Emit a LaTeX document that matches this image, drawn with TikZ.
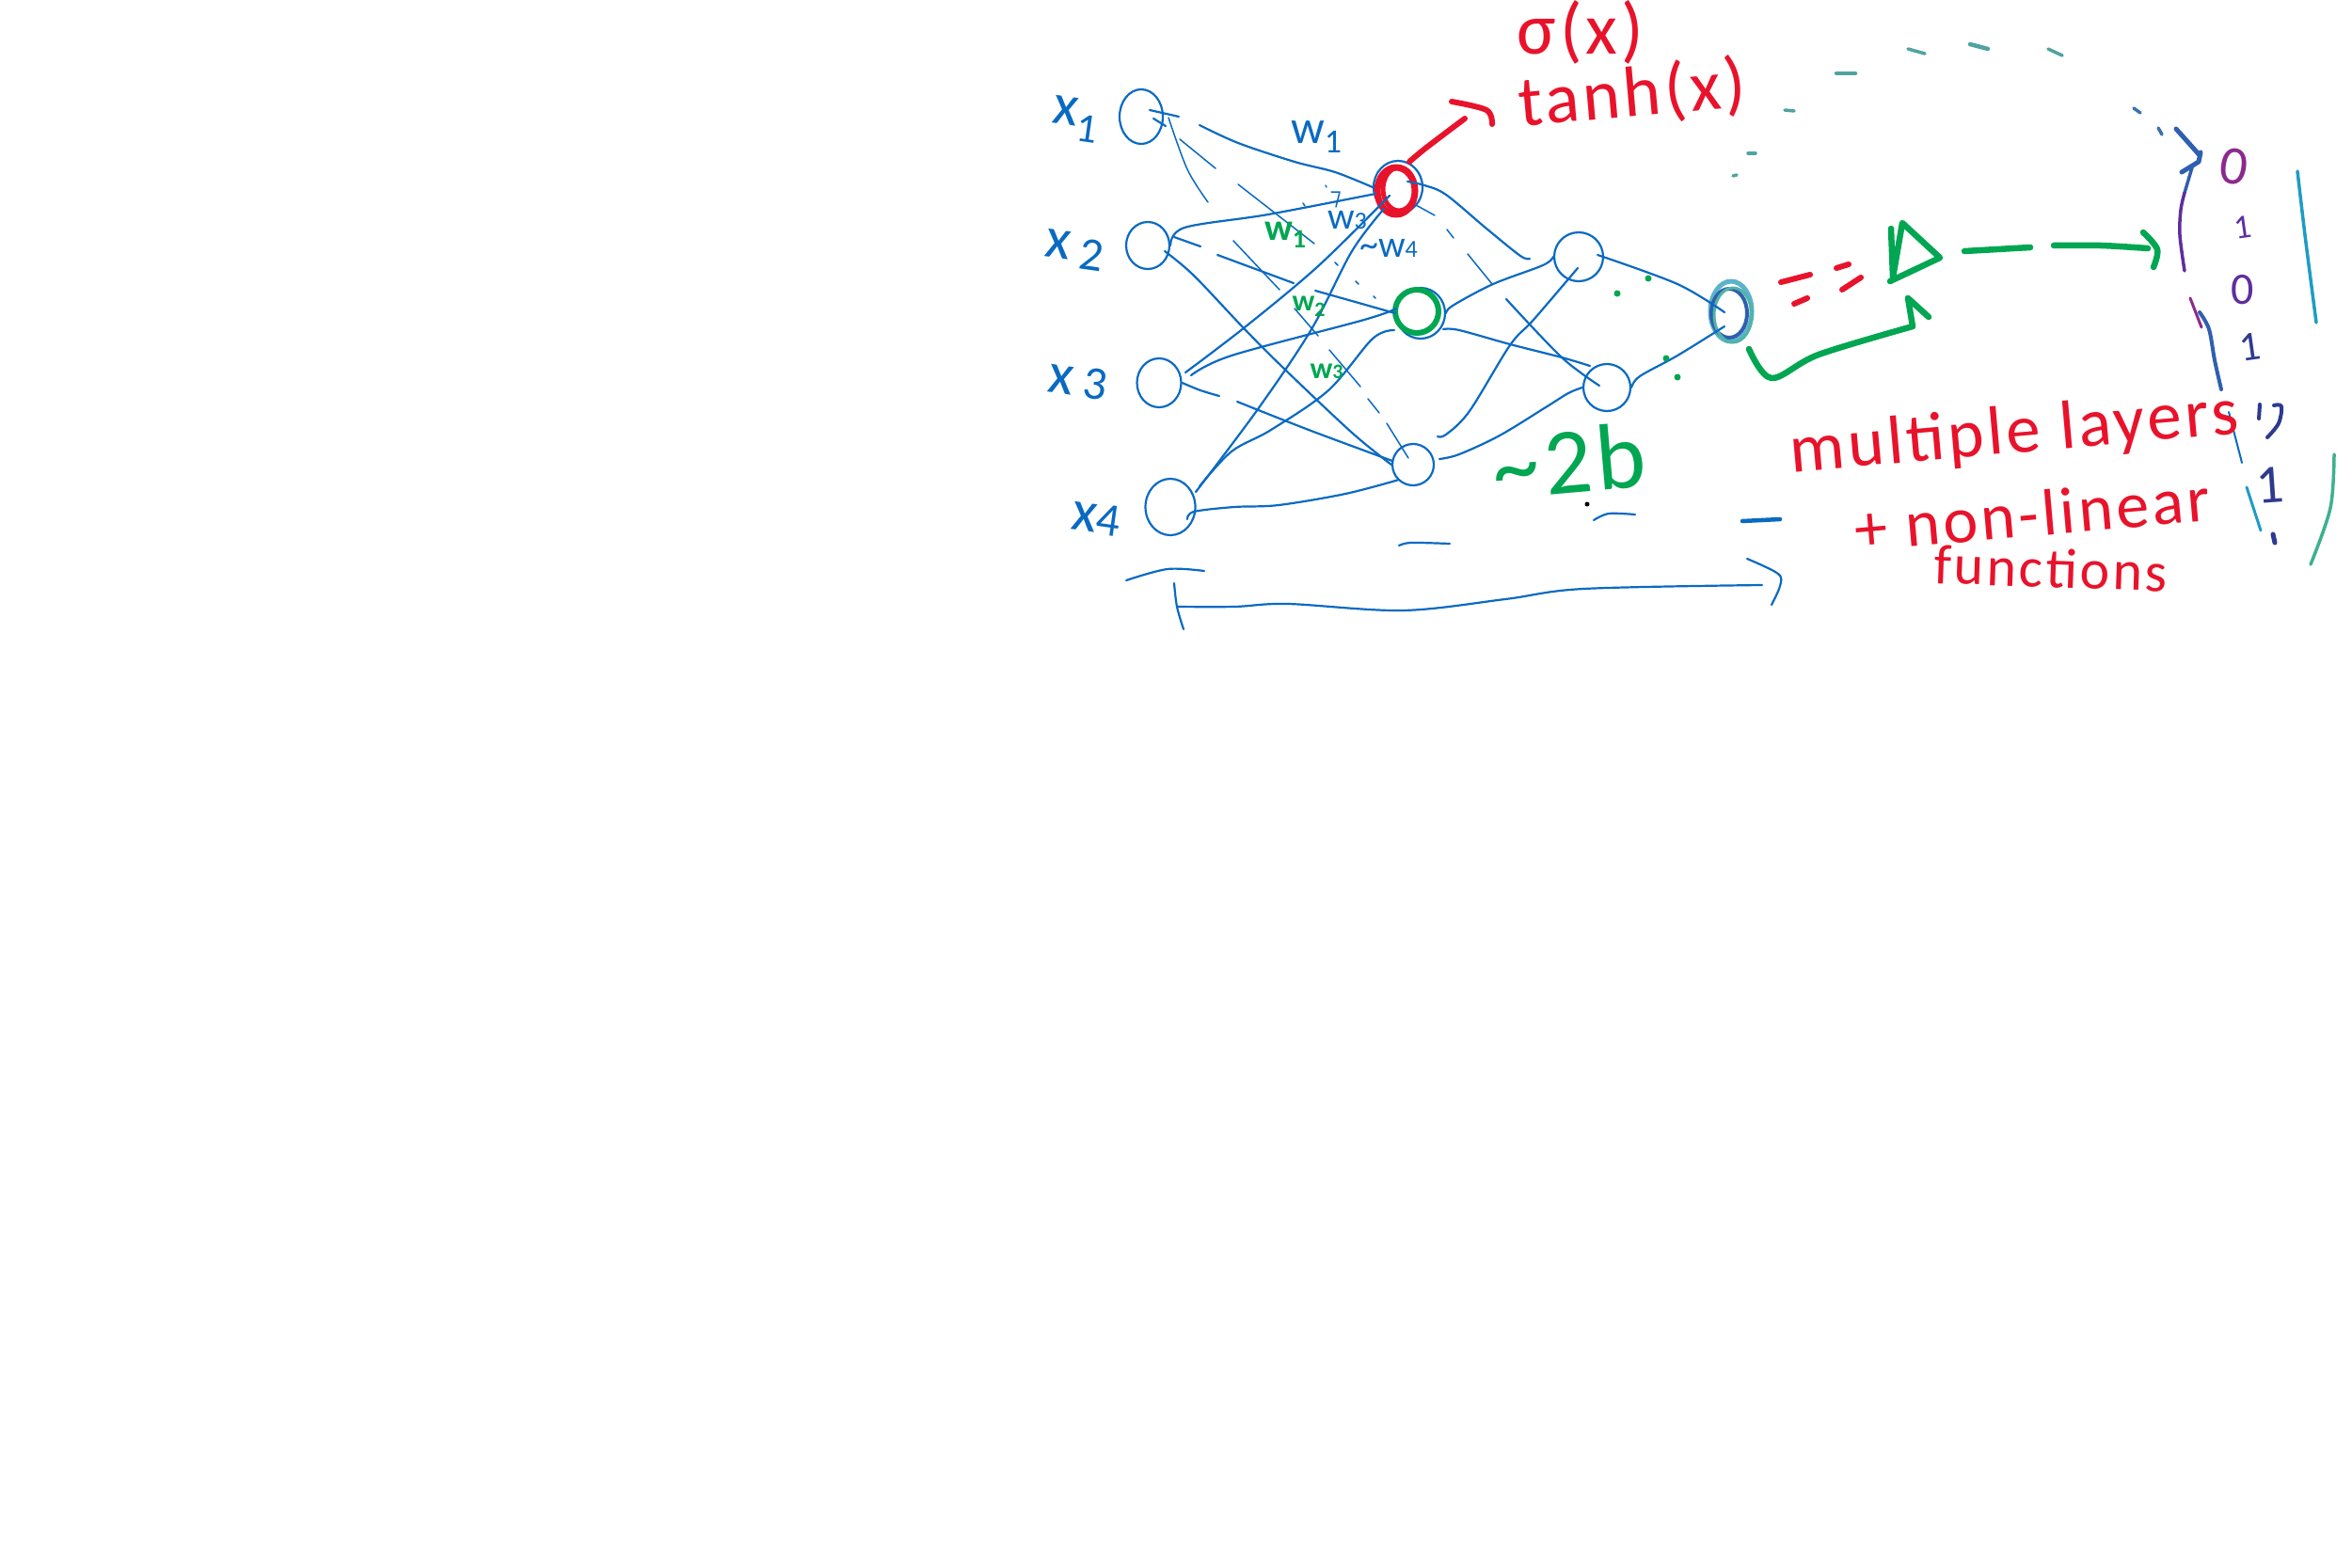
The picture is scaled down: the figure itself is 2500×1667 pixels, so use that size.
\documentclass[tikz,border=0pt]{standalone}
\usepackage{fontspec}
\setmainfont{Carlito}
\newfontfamily\handfont[LetterSpace=5]{Carlito}
\usetikzlibrary{shapes.geometric}
\definecolor{inkblue}{HTML}{0A6AC2}
\definecolor{inkred}{HTML}{E8132B}
\definecolor{inkgreen}{HTML}{00A651}
\definecolor{inkteal}{HTML}{4FA3A0}
\definecolor{inksky}{HTML}{5DB2CC}
\definecolor{inknavy}{HTML}{2F5FB0}
\definecolor{inkmint}{HTML}{4FB5A5}
\definecolor{inkpurple}{HTML}{8B2A8E}
\definecolor{inkviolet}{HTML}{5E2E9E}
\definecolor{inkdeep}{HTML}{2E3A90}
\definecolor{inkcyan}{HTML}{1F9CC4}
\definecolor{inksea}{HTML}{3FB08F}
\newcommand{\fs}[1]{\fontsize{#1}{#1}\selectfont}
\newcommand{\ink}[2]{\draw[#1] plot[smooth,tension=.55] coordinates {#2};}
\tikzset{
  neuron/.style={draw=inkblue,line width=2.2pt,ellipse,inner sep=0pt},
  wire/.style={draw=inkblue,line width=2.2pt},
  thin wire/.style={draw=inkblue,line width=1.5pt},
  hand/.style={inner sep=0pt,outer sep=0pt},
  redpen/.style={draw=inkred,line width=6pt},
  greenpen/.style={draw=inkgreen,line width=6.5pt},
  tealpen/.style={draw=inkteal,line width=3.5pt},
}
\begin{document}
\begin{tikzpicture}[x=1pt,y=-1pt,line cap=round,line join=round]
\useasboundingbox (0,0) rectangle (2500,1667);
% neurons
\node[neuron,minimum width=46pt,minimum height=58pt] (x1) at (1213,124) {};
\node[neuron,minimum width=46pt,minimum height=50pt] (x2) at (1220,261) {};
\node[neuron,minimum width=47pt,minimum height=52pt] (x3) at (1232,407) {};
\node[neuron,minimum width=53pt,minimum height=60pt] (x4) at (1244,539) {};
\node[neuron,minimum width=52pt,minimum height=56pt] (h1) at (1486,199) {};
\node[neuron,minimum width=52pt,minimum height=54pt] (h2) at (1510,333) {};
\node[neuron,minimum width=44pt,minimum height=44pt] (h3) at (1502,494) {};
\node[neuron,minimum width=52pt,minimum height=52pt] (o1) at (1678,273) {};
\node[neuron,minimum width=50pt,minimum height=50pt] (o2) at (1708,412) {};
\node[draw=inksky,line width=5pt,ellipse,inner sep=0pt,minimum width=44pt,minimum height=64pt] (out) at (1840,331) {};
\node[draw=inknavy,line width=4pt,ellipse,inner sep=0pt,minimum width=38pt,minimum height=52pt] (outb) at (1838,333) {};
\node[draw=inkmint,line width=3pt,ellipse,inner sep=0pt,minimum width=40pt,minimum height=58pt] (outc) at (1842,335) {};
\node[draw=inkred,line width=7pt,ellipse,inner sep=0pt,minimum width=40pt,minimum height=50pt] (hr) at (1484,203) {};
\node[draw=inkred,line width=5pt,ellipse,inner sep=0pt,minimum width=34pt,minimum height=46pt] (hr2) at (1487,201) {};
\node[draw=inkgreen,line width=6pt,ellipse,inner sep=0pt,minimum width=46pt,minimum height=46pt] (hg) at (1506,331) {};
% x1 outgoing
\ink{wire}{(1222,117)(1253,124)}
\ink{wire}{(1226,126)(1239,134)}
\ink{wire}{(1275,133)(1316,152)(1376,172)(1419,183)(h1.west)}
\ink{thin wire}{(1242,125)(1262,180)(1284,215)}
\ink{thin wire}{(1254,148)(1292,179)}
\ink{thin wire}{(1316,196)(1397,259)}
\ink{thin wire}{(1311,256)(1360,308)}
\ink{thin wire}{(1376,328)(1401,357)}
\ink{thin wire}{(1413,372)(1446,411)}
\ink{thin wire}{(1454,424)(1466,439)}
\ink{thin wire}{(1474,450)(1497,487)}
% x2 outgoing
\ink{wire}{(x2.east)(1259,242)(1348,228)(1462,206)}
\ink{wire}{(1248,252)(1276,262)}
\ink{wire}{(1294,271)(1375,301)}
\ink{wire}{(1398,309)(1437,320)(h2.west)}
\ink{wire}{(1238,267)(1269,293)(1323,350)(1366,393)(1437,460)(h3.west)}
% x3 outgoing
\ink{wire}{(1260,396)(1323,348)(1401,283)(1477,208)}
\ink{wire}{(1266,399)(1309,378)(1450,340)(1484,328)}
\ink{wire}{(x3.east)(1276,415)(1296,421)}
\ink{wire}{(1315,427)(1391,457)(1480,490)}
% x4 outgoing
\ink{wire}{(1271,523)(1337,435)(1394,350)(1437,267)(1471,222)}
\ink{wire}{(1275,517)(1309,480)(1351,457)(1412,415)(1459,360)(1482,351)}
\ink{wire}{(1262,552)(1269,544)(1312,539)(1359,537)(1430,525)(h3.south west)}
% hidden layer outgoing
\ink{wire}{(1496,193)(1514,197)(1537,207)(1580,243)(1616,272)(1626,275)}
\ink{thin wire}{(1505,218)(1525,229)}
\ink{thin wire}{(1538,244)(1545,253)}
\ink{thin wire}{(1560,270)(1586,302)}
\ink{wire}{(1601,318)(1660,380)(1700,410)}
\ink{wire}{(h2.east)(1544,325)(1587,302)(1640,282)(o1.west)}
\ink{wire}{(1534,350)(1551,351)(1605,366)(1660,380)(1690,389)}
\ink{wire}{(1528,464)(1537,462)(1562,437)(1605,367)(1630,340)(1677,285)}
\ink{wire}{(1530,488)(1551,483)(1594,463)(1643,433)(1667,418)(o2.west)}
% outputs to last neuron
\ink{wire}{(1698,271)(1783,302)(1833,332)}
\ink{wire}{(o2.east)(1743,400)(1783,378)(1833,347)}
% small ticks on the top layer
\draw[thin wire] (1415,204) -- (1424,204) -- (1420,220);
\draw[thin wire] (1385,216) -- +(2,3);
\draw[thin wire] (1409,197) -- +(1,2);
\draw[thin wire] (1419,279) -- +(3,3);
\draw[thin wire] (1441,299) -- +(3,3);
\draw[thin wire] (1460,315) -- +(2,2);
% blue dashes and brackets under the network
\ink{wire}{(1487,580)(1500,577)(1541,578)}
\ink{wire}{(1694,553)(1710,546)(1738,547)}
\draw[wire,line width=4.5pt] (1852,554) -- (1892,552);
\ink{wire}{(1197,617)(1241,605)(1280,607)}
\ink{wire}{(1248,620)(1251,645)(1258,669)}
\ink{wire}{(1251,645)(1312,645)(1369,642)(1491,649)(1600,637)(1683,626)(1873,622)}
\ink{wire}{(1857,594)(1890,610)(1892,623)(1883,643)}
% red arrow and equals
\ink{redpen}{(1498,172)(1516,157)(1557,126)}
\ink{redpen}{(1543,108)(1580,117)(1586,132)}
\draw[redpen] (1893,300) -- (1924,292);
\draw[redpen] (1907,323) -- (1921,317);
\draw[redpen] (1952,285) -- (1965,281);
\draw[redpen] (1958,308) -- (1978,295);
% green triangle and arrows
\draw[greenpen] (2010,243) -- (2012,295) -- (2022,237) -- (2062,274) -- (2009,299);
\ink{greenpen}{(1859,371)(1883,402)(1933,377)(2033,347)}
\draw[greenpen] (2033,347) -- (2028,317) -- (2050,337);
\draw[greenpen] (2088,267) -- (2158,263);
\ink{greenpen}{(2183,261)(2233,261)(2283,264)}
\ink{greenpen}{(2278,247)(2293,265)(2289,284)}
% green dots, black dot
\foreach \p in {(1752,296),(1719,312),(1771,381),(1783,401)} \fill[inkgreen] \p circle (3.5pt);
\fill[black] (1687,536) circle (2.5pt);
% dashed curve
\draw[tealpen] (1842,187) -- (1846,186);
\draw[tealpen] (1858,163) -- (1866,163);
\draw[tealpen] (1897,117) -- (1907,118);
\draw[tealpen,line width=4.5pt] (1952,78) -- (1972,78);
\draw[tealpen] (2028,52) -- (2046,57);
\draw[tealpen,line width=4.5pt] (2094,47) -- (2113,52);
\draw[tealpen] (2177,52) -- (2192,59);
\draw[tealpen,draw=inknavy!70!inkteal] (2268,115) -- (2275,120);
\draw[tealpen,draw=inknavy!70!inkteal] (2294,136) -- (2298,143);
\draw[draw=inknavy,line width=5pt] (2313,137) -- (2338,165);
\draw[draw=inknavy,line width=5pt] (2339,162) -- (2337,172) -- (2319,183);
% left bracket pieces
\ink{draw=inknavy,line width=3.5pt}{(2330,178)(2322,205)}
\ink{draw=inkviolet,line width=3.5pt}{(2322,205)(2318,223)(2317,250)(2322,288)}
\ink{draw=inkpurple,line width=3pt}{(2328,317)(2340,348)}
\ink{draw=inknavy,line width=4pt}{(2338,332)(2348,350)(2354,383)(2361,414)}
\ink{draw=inkblue,line width=2pt}{(2369,438)(2383,492)}
\ink{draw=inkcyan,line width=3pt}{(2388,518)(2403,564)}
% right bracket
\ink{draw=inkcyan,line width=3.5pt}{(2442,182)(2450,250)(2462,343)}
\ink{draw=inksea,line width=3.5pt}{(2481,483)(2477,540)(2456,600)}
% digits
\node[hand,text=inkpurple,rotate=-8] (d1) at (2375,177) {\fs{58}0};
\node[hand,text=inkviolet,rotate=8] (d2) at (2384,242) {\fs{36}1};
\node[hand,text=inkviolet] (d3) at (2384,308) {\fs{48}0};
\node[hand,text=inkdeep,rotate=8] (d4) at (2392,369) {\fs{44}1};
\draw[draw=inkdeep,line width=4pt] (2402,430) -- (2401,445);
\ink{draw=inkdeep,line width=4pt}{(2417,431)(2425,432)(2422,450)(2410,465)}
\node[hand,text=inkdeep,rotate=4] (d5) at (2413,516) {\fs{58}1};
\draw[draw=inkdeep,line width=5pt] (2416,568) -- (2418,577);
% labels
\begin{scope}[text=inkblue]
\node[hand,rotate=-8] (lx1) at (1143,127) {\fs{62}x\raisebox{-.25em}{\fs{44}1}};
\node[hand,rotate=-8] (lx2) at (1142,266) {\fs{62}x\,\raisebox{-.12em}{\fs{50}2}};
\node[hand,rotate=-8] (lx3) at (1146,406) {\fs{62}x\,\raisebox{-.02em}{\fs{50}3}};
\node[hand,rotate=-8] (lx4) at (1165,551) {\fs{62}x\raisebox{-.02em}{\fs{50}4}};
\node[hand] (w1) at (1399,146) {\fs{50}w\raisebox{-.2em}{\fs{36}1}};
\node[hand] (w3) at (1432,234) {\fs{40}w\fs{26}3};
\node[hand] (w4) at (1476,264) {\fs{40}\textasciitilde w\fs{26}4};
\end{scope}
\begin{scope}[text=inkgreen]
\node[hand,font=\bfseries] (g1) at (1366,250) {\fs{40}w\raisebox{-.2em}{\fs{28}1}};
\node[hand,font=\bfseries] (g2) at (1391,326) {\fs{32}w\raisebox{-.2em}{\fs{22}2}};
\node[hand,font=\bfseries] (g3) at (1410,395) {\fs{32}w\fs{22}3};
\node[hand,rotate=5] (lb) at (1668,490) {\handfont\fs{100}\textasciitilde 2b};
\end{scope}
\begin{scope}[text=inkred]
\node[hand] (sig) at (1680,34) {\handfont\fs{78}σ(x)};
\node[hand,rotate=5] (tanh) at (1735,101) {\handfont\fs{76}tanh(x)};
\node[hand,rotate=5] (m1) at (2141,462) {\handfont\fs{73}multiple layers};
\node[hand,rotate=5] (m2) at (2160,546) {\handfont\fs{70}+ non-linear};
\node[hand,rotate=-2] (m3) at (2180,604) {\handfont\fs{60}functions};
\end{scope}
\end{tikzpicture}
\end{document}
